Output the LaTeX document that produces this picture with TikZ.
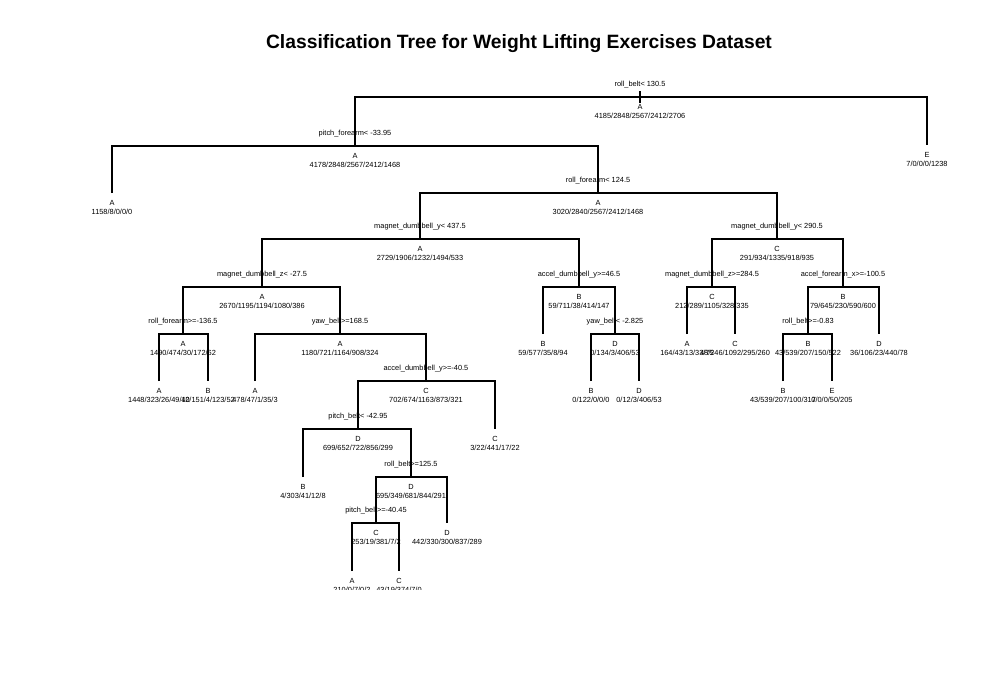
\documentclass[tikz,border=0pt]{standalone}
\usepackage{fontspec}
\setmainfont{Liberation Sans}
\begin{document}
\begin{tikzpicture}[x=1pt,y=-1pt,line width=1.05pt,
	txt/.style={font=\fontsize{7.4}{8}\selectfont,inner sep=0pt,anchor=base},
	split/.style={txt,yshift=11pt},
	cls/.style={txt,yshift=-12pt},
	cnt/.style={txt,yshift=-21.8pt}]
		\useasboundingbox (0,0) rectangle (1000,688);
		\node[font=\bfseries\fontsize{19.3}{22}\selectfont,anchor=base] (title) at (519,48) {Classification Tree for Weight Lifting Exercises Dataset};
		\clip (0,0) rectangle (1000,589.5);
		\coordinate (top) at (640,91);
		\coordinate (n1) at (640,97);
		\coordinate (n2) at (355,146);
		\coordinate (l3) at (927,145);
		\coordinate (l4) at (112,193);
		\coordinate (n5) at (598,193);
		\coordinate (n10) at (420,239);
		\coordinate (n11) at (777,239);
		\coordinate (n20) at (262,287);
		\coordinate (n21) at (579,287);
		\coordinate (n22) at (712,287);
		\coordinate (n23) at (843,287);
		\coordinate (n40) at (183,334);
		\coordinate (n41) at (340,334);
		\coordinate (l42) at (543,334);
		\coordinate (n43) at (615,334);
		\coordinate (l44) at (687,334);
		\coordinate (l45) at (735,334);
		\coordinate (n46) at (808,334);
		\coordinate (l47) at (879,334);
		\coordinate (l80) at (159,381);
		\coordinate (l81) at (208,381);
		\coordinate (l82) at (255,381);
		\coordinate (n83) at (426,381);
		\coordinate (l86) at (591,381);
		\coordinate (l87) at (639,381);
		\coordinate (l92) at (783,381);
		\coordinate (l93) at (832,381);
		\coordinate (n166) at (358,429);
		\coordinate (l167) at (495,429);
		\coordinate (l332) at (303,477);
		\coordinate (n333) at (411,477);
		\coordinate (n666) at (376,523);
		\coordinate (l667) at (447,523);
		\coordinate (l1332) at (352,571);
		\coordinate (l1333) at (399,571);
		\foreach \a/\p/\b in {n2/n1/l3,l4/n2/n5,n10/n5/n11,n20/n10/n21,n22/n11/n23,n40/n20/n41,l42/n21/n43,l44/n22/l45,n46/n23/l47,l80/n40/l81,l82/n41/n83,l86/n43/l87,l92/n46/l93,n166/n83/l167,l332/n166/n333,n666/n333/l667,l1332/n666/l1333}
			\draw (\a) |- (\p) -| (\b);
		\foreach \p/\c/\n in {n1/A/{4185/2848/2567/2412/2706},n2/A/{4178/2848/2567/2412/1468},l3/E/{7/0/0/0/1238},l4/A/{1158/8/0/0/0},n5/A/{3020/2840/2567/2412/1468},n10/A/{2729/1906/1232/1494/533},n11/C/{291/934/1335/918/935},n20/A/{2670/1195/1194/1080/386},n21/B/{59/711/38/414/147},n22/C/{212/289/1105/328/335},n23/B/{79/645/230/590/600},n40/A/{1490/474/30/172/62},n41/A/{1180/721/1164/908/324},l42/B/{59/577/35/8/94},n43/D/{0/134/3/406/53},l44/A/{164/43/13/33/75},l45/C/{48/246/1092/295/260},n46/B/{43/539/207/150/522},l47/D/{36/106/23/440/78},l80/A/{1448/323/26/49/10},l81/B/{42/151/4/123/52},l82/A/{478/47/1/35/3},n83/C/{702/674/1163/873/321},l86/B/{0/122/0/0/0},l87/D/{0/12/3/406/53},l92/B/{43/539/207/100/317},l93/E/{0/0/0/50/205},n166/D/{699/652/722/856/299},l167/C/{3/22/441/17/22},l332/B/{4/303/41/12/8},n333/D/{695/349/681/844/291},n666/C/{253/19/381/7/2},l667/D/{442/330/300/837/289},l1332/A/{210/0/7/0/2},l1333/C/{43/19/374/7/0}}{
			\node[cls] (c\p) at (\p) {\c};
			\node[cnt] (k\p) at (\p) {\n};
		}
		\draw (top) -- (cn1.north);
		\node[split] (s1) at (n1) {roll\_belt< 130.5};
		\node[split] (s2) at (n2) {pitch\_forearm< -33.95};
		\node[split] (s5) at (n5) {roll\_forearm< 124.5};
		\node[split] (s10) at (n10) {magnet\_dumbbell\_y< 437.5};
		\node[split] (s11) at (n11) {magnet\_dumbbell\_y< 290.5};
		\node[split] (s20) at (n20) {magnet\_dumbbell\_z< -27.5};
		\node[split] (s21) at (n21) {accel\_dumbbell\_y>=46.5};
		\node[split] (s22) at (n22) {magnet\_dumbbell\_z>=284.5};
		\node[split] (s23) at (n23) {accel\_forearm\_x>=-100.5};
		\node[split] (s40) at (n40) {roll\_forearm>=-136.5};
		\node[split] (s41) at (n41) {yaw\_belt>=168.5};
		\node[split] (s43) at (n43) {yaw\_belt< -2.825};
		\node[split] (s46) at (n46) {roll\_belt>=-0.83};
		\node[split] (s83) at (n83) {accel\_dumbbell\_y>=-40.5};
		\node[split] (s166) at (n166) {pitch\_belt< -42.95};
		\node[split] (s333) at (n333) {roll\_belt>=125.5};
		\node[split] (s666) at (n666) {pitch\_belt>=-40.45};
		\end{tikzpicture}
\end{document}
